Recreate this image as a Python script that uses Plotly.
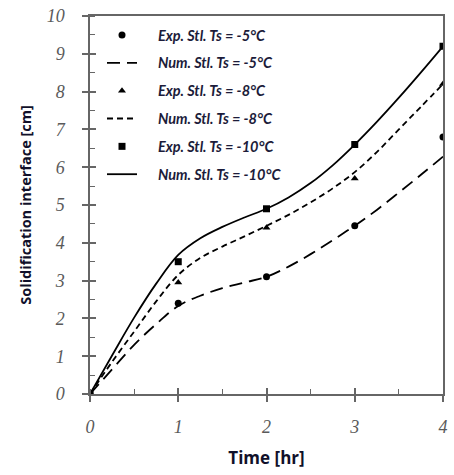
import plotly.graph_objects as go

# Experimental data
exp_t = [0, 1, 2, 3, 4]
exp_m5 = [0, 2.4, 3.1, 4.45, 6.8]
exp_m8 = [0, 2.95, 4.4, 5.7, 8.2]
exp_m10 = [0, 3.5, 4.9, 6.6, 9.2]

# Numerical curves
num_t = [0, 0.25, 0.5, 0.75, 1, 1.25, 1.5, 1.75, 2, 2.25, 2.5, 2.75, 3, 3.25, 3.5, 3.75, 4]
num_m5 = [0, 0.65, 1.3, 1.85, 2.33, 2.6, 2.8, 2.95, 3.1, 3.37, 3.7, 4.07, 4.45, 4.87, 5.33, 5.8, 6.28]
num_m8 = [0, 0.85, 1.65, 2.45, 3.15, 3.6, 3.9, 4.17, 4.45, 4.74, 5.07, 5.44, 5.87, 6.4, 7.0, 7.6, 8.2]
num_m10 = [0, 1.02, 2.02, 2.92, 3.68, 4.12, 4.42, 4.67, 4.9, 5.2, 5.58, 6.05, 6.6, 7.2, 7.84, 8.51, 9.2]

names = ["Exp. Stl. Ts = -5°C", "Num. Stl. Ts = -5°C",
         "Exp. Stl. Ts = -8°C", "Num. Stl. Ts = -8°C",
         "Exp. Stl. Ts = -10°C", "Num. Stl. Ts = -10°C"]
pad = "\u00a0" * 5

fig = go.Figure()

def exp_trace(y, sym, name, g):
    fig.add_trace(go.Scatter(x=exp_t, y=y, mode="markers", name=pad + name, legendgroup=g,
                             marker=dict(symbol=sym, size=7, color="black")))

def num_trace(y, dash, name, g):
    fig.add_trace(go.Scatter(x=num_t, y=y, mode="lines", name=pad + name, legendgroup=g,
                             line=dict(color="black", width=1.8, dash=dash, shape="spline",
                                       smoothing=1.0)))

exp_trace(exp_m5, "circle", names[0], "a")
num_trace(num_m5, "13px,7px", names[1], "b")
exp_trace(exp_m8, "triangle-up", names[2], "c")
num_trace(num_m8, "6px,4px", names[3], "d")
exp_trace(exp_m10, "square", names[4], "e")
num_trace(num_m10, "solid", names[5], "f")

# helper trace for inner tick axes
fig.add_trace(go.Scatter(x=[0], y=[0], xaxis="x2", yaxis="y2", mode="markers",
                         marker=dict(opacity=0), showlegend=False, hoverinfo="skip"))

tickfont = dict(family="Liberation Serif", size=18, color="#5a5a5a", style="italic")
axcol = "#666666"
titlecol = "#10102a"

fig.update_layout(
    width=454, height=475,
    margin=dict(l=90, r=6, t=15, b=81),
    paper_bgcolor="white", plot_bgcolor="white",
    showlegend=True,
    legend=dict(x=0.034, y=0.992, xanchor="left", yanchor="top",
                bgcolor="rgba(0,0,0,0)", tracegroupgap=6,
                font=dict(family="Lato", size=14.5, color="#1c1c3a", weight="bold", style="italic")),
    xaxis=dict(range=[0, 4], tickvals=[0, 1, 2, 3, 4], showgrid=False, zeroline=False,
               showline=True, linecolor=axcol, linewidth=1.5, mirror=True,
               ticks="outside", ticklen=6, tickcolor=axcol, tickwidth=1.5,
               minor=dict(dtick=0.5, ticks="inside", ticklen=5, tickcolor=axcol, tickwidth=1.2),
               tickfont=tickfont, ticklabelstandoff=10,
               title=dict(text="<b>Time [hr]</b>", font=dict(family="Open Sans", size=17, color=titlecol),
                          standoff=16)),
    yaxis=dict(range=[0, 10], tickvals=list(range(0, 11)), showgrid=False, zeroline=False,
               showline=True, linecolor=axcol, linewidth=1.5, mirror=True,
               ticks="outside", ticklen=6, tickcolor=axcol, tickwidth=1.5,
               minor=dict(dtick=0.5, ticks="inside", ticklen=5, tickcolor=axcol, tickwidth=1.2),
               tickfont=tickfont, ticklabelstandoff=14,
               title=dict(text="<b>Solidification interface [cm]</b>",
                          font=dict(family="Open Sans", size=14.5, color=titlecol), standoff=12)),
    xaxis2=dict(range=[0, 4], overlaying="x", anchor="y2", tickvals=[0, 1, 2, 3, 4],
                showticklabels=False, showgrid=False, zeroline=False, showline=False,
                ticks="inside", ticklen=6, tickcolor=axcol, tickwidth=1.5),
    yaxis2=dict(range=[0, 10], overlaying="y", anchor="x2", tickvals=list(range(0, 11)),
                showticklabels=False, showgrid=False, zeroline=False, showline=False,
                ticks="inside", ticklen=6, tickcolor=axcol, tickwidth=1.5),
)

fig.write_html("out.html")
